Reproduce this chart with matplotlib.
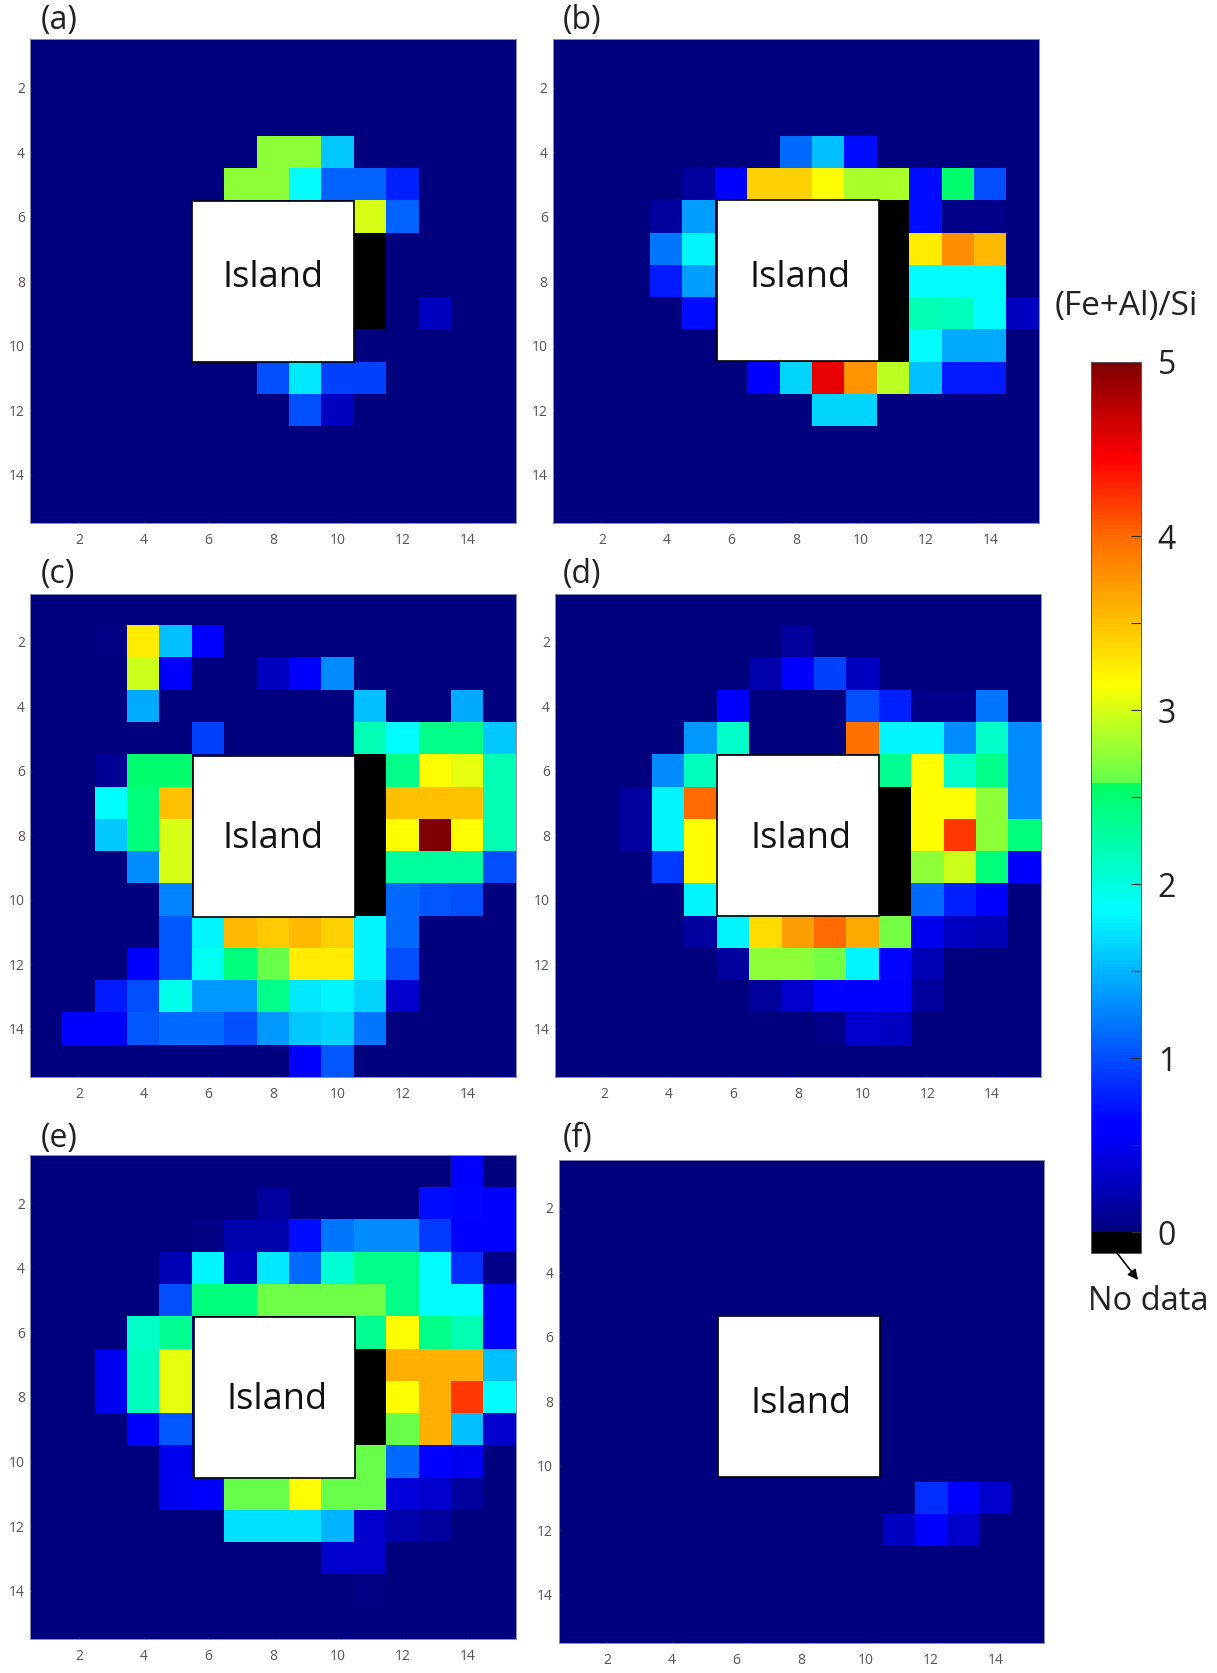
import numpy as np
import matplotlib
matplotlib.use("Agg")
import matplotlib.pyplot as plt
from matplotlib.colors import LinearSegmentedColormap, Normalize
from matplotlib.cm import ScalarMappable
from matplotlib.patches import Rectangle, FancyArrowPatch

plt.rcParams['font.family'] = ['Open Sans', 'DejaVu Sans']
W, H = 1217, 1673
N = np.nan

panel_a = [
 [0]*15, [0]*15, [0]*15,
 [0,0,0,0,0,0,0,2.75,2.75,1.6,0,0,0,0,0],
 [0,0,0,0,0,0,2.75,2.75,1.85,1.1,1.1,.8,0,0,0],
 [0,0,0,0,0,0,0,0,0,0,3.0,1.1,0,0,0],
 [0,0,0,0,0,0,0,0,0,0,N,0,0,0,0],
 [0,0,0,0,0,0,0,0,0,0,N,0,0,0,0],
 [0,0,0,0,0,0,0,0,0,0,N,0,.3,0,0],
 [0]*15,
 [0,0,0,0,0,0,0,1.0,1.75,.95,.95,0,0,0,0],
 [0,0,0,0,0,0,0,0,1.0,.3,0,0,0,0,0],
 [0]*15, [0]*15, [0]*15,
]
panel_b = [
 [0]*15, [0]*15, [0]*15,
 [0,0,0,0,0,0,0,1.15,1.55,.7,0,0,0,0,0],
 [0,0,0,0,.15,.55,3.4,3.4,3.15,2.85,2.85,.7,2.5,1.0,0],
 [0,0,0,.15,1.4,0,0,0,0,0,N,.7,.05,.05,0],
 [0,0,0,1.2,1.8,0,0,0,0,0,N,3.25,3.8,3.55,0],
 [0,0,0,.75,1.4,0,0,0,0,0,N,1.85,1.85,1.85,0],
 [0,0,0,0,.7,0,0,0,0,0,N,2.2,2.15,1.85,.3],
 [0,0,0,0,0,0,0,0,0,0,N,1.85,1.45,1.45,0],
 [0,0,0,0,0,0,.55,1.65,4.55,3.75,2.9,1.55,.75,.75,0],
 [0,0,0,0,0,0,0,0,1.65,1.65,0,0,0,0,0],
 [0]*15, [0]*15, [0]*15,
]
panel_c = [
 [0]*15,
 [0,0,.03,3.25,1.55,.55,0,0,0,0,0,0,0,0,0],
 [0,0,0,2.95,.55,0,0,.3,.6,1.3,0,0,0,0,0],
 [0,0,0,1.45,0,0,0,0,0,0,1.55,0,0,1.45,0],
 [0,0,0,0,0,.95,0,0,0,0,2.2,1.85,2.4,2.4,1.6],
 [0,0,.1,2.5,2.5,0,0,0,0,0,N,2.4,3.15,3.05,2.2],
 [0,0,1.85,2.45,3.5,0,0,0,0,0,N,3.5,3.5,3.5,2.2],
 [0,0,1.6,2.45,3.0,0,0,0,0,0,N,3.15,5.0,3.15,2.2],
 [0,0,0,1.3,3.0,0,0,0,0,0,N,2.3,2.3,2.3,1.0],
 [0,0,0,0,1.25,0,0,0,0,0,N,1.15,1.05,1.0,0],
 [0,0,0,0,1.05,1.8,3.55,3.45,3.55,3.4,1.8,1.15,0,0,0],
 [0,0,0,.55,1.05,1.9,2.45,2.6,3.25,3.25,1.8,1.0,0,0,0],
 [0,0,.75,1.0,1.95,1.35,1.35,2.4,1.75,1.8,1.65,.35,0,0,0],
 [0,.6,.6,1.05,1.15,1.15,1.0,1.35,1.6,1.65,1.2,0,0,0,0],
 [0,0,0,0,0,0,0,0,.55,1.05,0,0,0,0,0],
]
panel_d = [
 [0]*15,
 [0,0,0,0,0,0,0,.15,0,0,0,0,0,0,0],
 [0,0,0,0,0,0,.2,.6,.95,.3,0,0,0,0,0],
 [0,0,0,0,0,.55,0,0,0,1.0,.8,.05,.05,1.2,0],
 [0,0,0,0,1.35,2.1,0,0,0,3.95,1.8,1.8,1.3,2.1,1.3],
 [0,0,0,1.3,2.15,0,0,0,0,0,2.35,3.15,2.1,2.4,1.3],
 [0,0,.15,1.8,4.0,0,0,0,0,0,N,3.15,3.15,2.75,1.3],
 [0,0,.15,1.8,3.15,0,0,0,0,0,N,3.15,4.2,2.75,2.45],
 [0,0,0,.9,3.15,0,0,0,0,0,N,2.75,2.95,2.45,.6],
 [0,0,0,0,1.8,0,0,0,0,0,N,1.15,.8,.55,0],
 [0,0,0,0,.15,1.8,3.35,3.7,4.0,3.65,2.65,.5,.3,.25,0],
 [0,0,0,0,0,.15,2.75,2.75,2.65,1.8,.65,.25,0,0,0],
 [0,0,0,0,0,0,.12,.35,.6,.6,.55,.15,0,0,0],
 [0,0,0,0,0,0,0,0,.05,.35,.3,0,0,0,0],
 [0]*15,
]
panel_e = [
 [0,0,0,0,0,0,0,0,0,0,0,0,0,.6,0],
 [0,0,0,0,0,0,0,.15,0,0,0,0,.7,.65,.55],
 [0,0,0,0,0,.03,.2,.2,.7,1.2,1.3,1.3,.9,.6,.55],
 [0,0,0,0,.25,1.8,.3,1.75,1.15,2.05,2.4,2.4,1.85,.85,.05],
 [0,0,0,0,1.0,2.45,2.45,2.62,2.62,2.62,2.62,2.4,1.85,1.85,.65],
 [0,0,0,2.1,2.35,0,0,0,0,0,2.35,3.15,2.4,2.2,.65],
 [0,0,.5,2.15,3.05,0,0,0,0,0,N,3.6,3.6,3.6,1.55],
 [0,0,.5,2.15,3.05,0,0,0,0,0,N,3.15,3.6,4.2,1.85],
 [0,0,0,.55,1.05,0,0,0,0,0,N,2.6,3.6,1.55,.35],
 [0,0,0,0,.5,0,0,0,0,0,2.6,1.15,.55,.5,0],
 [0,0,0,0,.5,.55,2.6,2.6,3.15,2.6,2.6,.4,.35,.15,0],
 [0,0,0,0,0,0,1.7,1.7,1.7,1.5,.35,.2,.15,0,0],
 [0,0,0,0,0,0,0,0,0,.35,.35,0,0,0,0],
 [0,0,0,0,0,0,0,0,0,0,.03,0,0,0,0],
 [0]*15,
]
panel_f = [
 [0]*15, [0]*15, [0]*15, [0]*15, [0]*15,
 [0]*15, [0]*15, [0]*15, [0]*15, [0]*15,
 [0,0,0,0,0,0,0,0,0,0,0,.85,.55,.35,0],
 [0,0,0,0,0,0,0,0,0,0,.3,.55,.35,0,0],
 [0]*15, [0]*15, [0]*15,
]
panel_names = ['(a)', '(b)', '(c)', '(d)', '(e)', '(f)']
panels = [panel_a, panel_b, panel_c, panel_d, panel_e, panel_f]
ticks = [2, 4, 6, 8, 10, 12, 14]
cbar_ticks = [0, 1, 2, 3, 4, 5]
cbar_minor = [0.5, 1.5, 2.5, 3.5, 4.5]

# layout, in reference pixels (left, top, right, bottom)
boxes = [(30.4, 39.3, 516, 523), (553.3, 39.3, 1038.8, 523),
         (30.4, 593.6, 516, 1077), (555.4, 593.6, 1040.5, 1077),
         (30.4, 1155, 516, 1639), (558.7, 1159.5, 1043.9, 1643)]
label_xy = [(41, 20), (563, 20), (41, 575), (563, 575), (41, 1138), (563, 1138)]
# island box (x0, y0, size) and label centre, in axis units
island_box = [(5.5, 5.5, 5), (5.55, 5.49, 5), (5.53, 5.53, 5),
              (5.5, 5.5, 5), (5.54, 5.52, 5), (5.44, 5.35, 5)]
island_txt = [(8, 7.9), (8.13, 7.9), (8, 8.1), (8.1, 8.1), (8.13, 8.1), (8, 8.07)]


def add_axes(l, t, r, b):
    return fig.add_axes([l / W, 1 - b / H, (r - l) / W, (b - t) / H])


# jet-like map with the seam the reference shows just above 2.5
cmap = LinearSegmentedColormap.from_list('seam_jet', [
    (0.0, (0, 0, .5)), (0.11, (0, 0, 1)), (0.125, (0, 0, 1)),
    (0.37, (0, 1, 1)), (0.515, (0, 1, .38)), (0.517, (.38, 1, .3)),
    (0.63, (1, 1, 0)), (0.80, (1, .42, 0)), (0.89, (1, 0, 0)),
    (1.0, (.5, 0, 0))], N=256)
cmap = cmap.copy()
cmap.set_bad('black')
cmap.set_under('black')
norm = Normalize(0, 5)

fig = plt.figure(figsize=(W / 100, H / 100), dpi=100, facecolor='white')

for name, data, box, lab, ib, it in zip(panel_names, panels, boxes, label_xy,
                                        island_box, island_txt):
    ax = add_axes(*box)
    arr = np.ma.masked_invalid(np.array(data, dtype=float))
    ax.imshow(arr, cmap=cmap, norm=norm, extent=(.5, 15.5, 15.5, .5),
              interpolation='nearest', aspect='auto')
    ax.set_xticks(ticks)
    ax.set_yticks(ticks)
    ax.tick_params(direction='in', length=1.5, width=.5, color='#303050',
                   labelcolor='#555555', labelsize=10)
    ax.tick_params(axis='x', pad=7)
    ax.tick_params(axis='y', pad=4)
    for s in ax.spines.values():
        s.set_color('#8a8fb5')
        s.set_linewidth(.7)
    ax.add_patch(Rectangle((ib[0], ib[1]), ib[2], ib[2], fc='white', ec='black',
                           lw=1.2, zorder=3))
    ax.text(it[0], it[1], 'Island', ha='center', va='center', fontsize=26,
            color='#111111', zorder=4)
    fig.text(lab[0] / W, 1 - lab[1] / H, name, ha='left', va='center',
             fontsize=23, color='#222222')

# colour bar; the black "No data" block is its lower extension
cax = add_axes(1091, 362, 1141, 1253)
cb = fig.colorbar(ScalarMappable(norm=norm, cmap=cmap), cax=cax, extend='min',
                  extendrect=True, extendfrac=0.024, drawedges=False)
cb.set_ticks(cbar_ticks)
cb.set_ticks(cbar_minor, minor=True)
cax.tick_params(which='both', direction='in', length=7, width=.8, color='#303030',
                right=True, left=False)
cax.tick_params(which='major', labelsize=23, labelcolor='#222222', pad=12)
cb.outline.set_edgecolor('#555566')
cb.outline.set_linewidth(.7)

fig.text(1126 / W, 1 - 306 / H, '(Fe+Al)/Si', ha='center', va='center',
         fontsize=24, color='#222222')
fig.text(1148 / W, 1 - 1302 / H, 'No data', ha='center', va='center',
         fontsize=23.5, color='#222222')
fig.add_artist(FancyArrowPatch(
    (1117 / W, 1 - 1253 / H), (1138 / W, 1 - 1280 / H),
    transform=fig.transFigure, arrowstyle='-|>', mutation_scale=15,
    lw=1.2, color='black', shrinkA=0, shrinkB=0))

fig.savefig('out.png', dpi=100, facecolor='white')
